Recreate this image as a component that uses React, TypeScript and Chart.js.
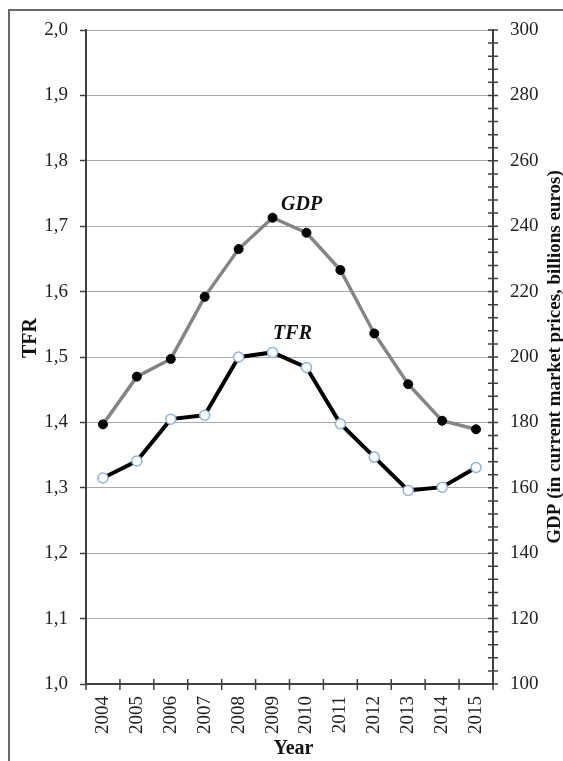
import React, { useEffect, useRef } from "react";
import { Chart, registerables } from "chart.js";

Chart.register(...registerables);

const years = ["2004", "2005", "2006", "2007", "2008", "2009", "2010", "2011", "2012", "2013", "2014", "2015"];
const tfrValues = [1.315, 1.341, 1.405, 1.411, 1.5, 1.507, 1.484, 1.398, 1.347, 1.296, 1.301, 1.331];
const gdpValues = [179.4, 194.0, 199.4, 218.4, 233.0, 242.6, 238.0, 226.6, 207.2, 191.7, 180.5, 177.9];
const tfrAxisRange = [1.0, 2.0, 0.1];
const gdpAxisRange = [100, 300, 20];
const gdpMinorStep = 4;
const leftTitle = "TFR";
const rightTitle = "GDP (in current market prices, billions euros)";
const bottomTitle = "Year";
const seriesNames = ["TFR", "GDP"];

const FONT = "'Liberation Serif', 'Times New Roman', serif";
const AXIS = "#404040";

const decor = {
  id: "decor",
  afterDraw(chart: any) {
    const { ctx, chartArea } = chart;
    const x = chart.scales.x;
    const y1 = chart.scales.y1;
    ctx.save();
    // outer frame
    ctx.strokeStyle = "#6a6a6a";
    ctx.lineWidth = 2;
    ctx.beginPath();
    ctx.moveTo(9, 800);
    ctx.lineTo(9, 10);
    ctx.lineTo(600, 10);
    ctx.stroke();

    // cross ticks on x axis (category boundaries)
    ctx.strokeStyle = AXIS;
    ctx.lineWidth = 1.5;
    const n = years.length;
    const step = (x.getPixelForValue(1) - x.getPixelForValue(0));
    ctx.beginPath();
    for (let i = 0; i <= n; i++) {
      const px = x.getPixelForValue(0) - step / 2 + i * step;
      ctx.moveTo(px, chartArea.bottom - 5);
      ctx.lineTo(px, chartArea.bottom + 6);
    }
    // cross ticks on right axis, major and minor
    for (let v = gdpAxisRange[0]; v <= gdpAxisRange[1]; v += gdpMinorStep) {
      const py = y1.getPixelForValue(v);
      ctx.moveTo(chartArea.right - 5, py);
      ctx.lineTo(chartArea.right + 5, py);
    }
    ctx.stroke();

    // axis titles
    ctx.fillStyle = "#111";
    ctx.font = `bold 20px ${FONT}`;
    ctx.textAlign = "center";
    ctx.textBaseline = "middle";
    ctx.save();
    ctx.translate(31, (chartArea.top + chartArea.bottom) / 2 - 19);
    ctx.rotate(-Math.PI / 2);
    ctx.fillText(leftTitle, 0, 0);
    ctx.restore();

    ctx.save();
    ctx.font = `bold 19px ${FONT}`;
    ctx.translate(555, (chartArea.top + chartArea.bottom) / 2);
    ctx.rotate(-Math.PI / 2);
    ctx.fillText(rightTitle, 0, 0);
    ctx.restore();

    ctx.fillText(bottomTitle, (chartArea.left + chartArea.right) / 2 + 4, chartArea.bottom + 65);

    // series labels near their peaks
    ctx.font = `italic bold 20px ${FONT}`;
    const tfrMeta = chart.getDatasetMeta(0);
    const gdpMeta = chart.getDatasetMeta(1);
    const tIdx = tfrValues.indexOf(Math.max(...tfrValues));
    const gIdx = gdpValues.indexOf(Math.max(...gdpValues));
    const tp = tfrMeta.data[tIdx];
    const gp = gdpMeta.data[gIdx];
    ctx.fillText(seriesNames[0], tp.x + 20, tp.y - 19);
    ctx.fillText(seriesNames[1], gp.x + 29, gp.y - 13);
    ctx.restore();
  },
};

export default function App() {
  const ref = useRef<HTMLCanvasElement>(null);
  useEffect(() => {
    if (!ref.current) return;
    const chart = new Chart(ref.current, {
      type: "line",
      data: {
        labels: years,
        datasets: [
          {
            label: seriesNames[0],
            data: tfrValues,
            yAxisID: "y",
            borderColor: "#000",
            borderWidth: 4,
            pointRadius: 5,
            pointBackgroundColor: "#ffffff",
            pointBorderColor: "#8fb4dc",
            pointBorderWidth: 1.5,
            tension: 0,
          },
          {
            label: seriesNames[1],
            data: gdpValues,
            yAxisID: "y1",
            borderColor: "#858585",
            borderWidth: 3.5,
            pointRadius: 4.5,
            pointBackgroundColor: "#000",
            pointBorderColor: "#000",
            pointBorderWidth: 1,
            tension: 0,
          },
        ],
      },
      options: {
        animation: false,
        responsive: false,
        layout: { padding: { top: 30, left: 0, right: 0, bottom: 0 } },
        plugins: { legend: { display: false }, tooltip: { enabled: false } },
        scales: {
          x: {
            type: "category",
            offset: true,
            grid: { display: true, drawOnChartArea: false, drawTicks: false, offset: true },
            border: { display: true, color: AXIS, width: 2 },
            ticks: {
              color: "#222",
              font: { family: FONT, size: 19 },
              maxRotation: 90,
              minRotation: 90,
              padding: 12,
              autoSkip: false,
            },
            afterFit: (s: any) => { s.height = 77; },
          },
          y: {
            position: "left",
            min: tfrAxisRange[0],
            max: tfrAxisRange[1],
            ticks: {
              stepSize: tfrAxisRange[2],
              color: "#222",
              font: { family: FONT, size: 19 },
              padding: 12,
              callback: (v: any) => Number(v).toFixed(1).replace(".", ","),
            },
            grid: { color: "#a9a9a9", lineWidth: 1, drawTicks: true, tickLength: 6, tickColor: AXIS, tickWidth: 1.5 },
            border: { display: true, color: AXIS, width: 2 },
            afterFit: (s: any) => { s.width = 86; },
          },
          y1: {
            position: "right",
            min: gdpAxisRange[0],
            max: gdpAxisRange[1],
            ticks: {
              stepSize: gdpAxisRange[2],
              color: "#222",
              font: { family: FONT, size: 19 },
              padding: 17,
            },
            grid: { drawOnChartArea: false, drawTicks: false },
            border: { display: true, color: AXIS, width: 2 },
            afterFit: (s: any) => { s.width = 70; },
          },
        },
      },
      plugins: [decor],
    });
    return () => chart.destroy();
  }, []);
  return (
    <div style={{ position: "absolute", left: 0, top: 0, width: 563, height: 761, background: "#fff" }}>
      <canvas ref={ref} width={563} height={761} style={{ display: "block" }} />
    </div>
  );
}
